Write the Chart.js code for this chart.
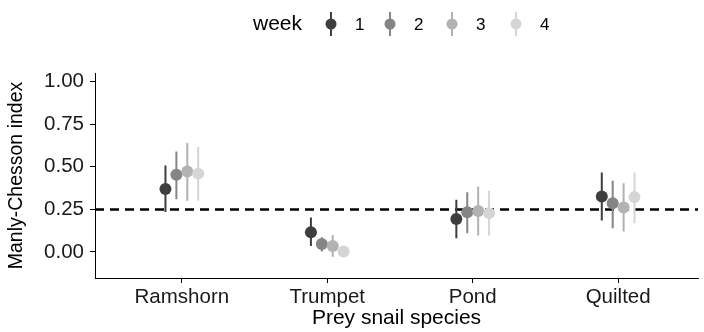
<!DOCTYPE html>
<html>
<head>
<meta charset="utf-8">
<script src="https://cdn.jsdelivr.net/npm/chart.js@4/dist/chart.umd.min.js"></script>
<style>
html,body{margin:0;padding:0;background:#fff;overflow:hidden;}
canvas{display:block;}
</style>
</head>
<body>
<canvas id="c" width="704" height="332"></canvas>
<script>
// ---- data ----
const categories = ['Ramshorn', 'Trumpet', 'Pond', 'Quilted'];
const weeks = ['1', '2', '3', '4'];

const week1Mean = [0.370, 0.116, 0.194, 0.325];
const week1Low  = [0.234, 0.035, 0.080, 0.184];
const week1High = [0.508, 0.202, 0.306, 0.467];

const week2Mean = [0.453, 0.047, 0.233, 0.286];
const week2Low  = [0.310, 0.002, 0.110, 0.139];
const week2High = [0.590, 0.086, 0.351, 0.418];

const week3Mean = [0.472, 0.035, 0.241, 0.261];
const week3Low  = [0.300, -0.028, 0.096, 0.120];
const week3High = [0.640, 0.100, 0.384, 0.404];

const week4Mean = [0.460, 0.002, 0.228, 0.322];
const week4Low  = [0.300, -0.005, 0.096, 0.169];
const week4High = [0.616, 0.010, 0.360, 0.467];

const yTicks = [0, 0.25, 0.5, 0.75, 1.0];
const referenceValue = 0.25;

// ---- styling / layout ----
const weekColors = ['#3e3e3e', '#858585', '#b2b2b2', '#d5d5d5'];
const dodgeWidth = 0.3;
const xMin = 0.403, xMax = 4.549;
const yMin = -0.153, yMax = 1.051;
const FONT = "'Liberation Sans', Arial, Helvetica, sans-serif";

const series = [
  {mean: week1Mean, low: week1Low, high: week1High},
  {mean: week2Mean, low: week2Low, high: week2High},
  {mean: week3Mean, low: week3Low, high: week3High},
  {mean: week4Mean, low: week4Low, high: week4High}
];

const datasets = [];
datasets.push({
  type: 'line',
  data: [{x: xMin, y: referenceValue}, {x: xMax, y: referenceValue}],
  borderColor: '#000',
  borderWidth: 2.5,
  borderDash: [9, 6],
  pointRadius: 0,
  order: 100
});
series.forEach((s, w) => {
  const off = (w - (series.length - 1) / 2) * (dodgeWidth / series.length);
  const whisk = [];
  categories.forEach((c, i) => {
    whisk.push({x: i + 1 + off, y: s.low[i]});
    whisk.push({x: i + 1 + off, y: s.high[i]});
    whisk.push({x: i + 1 + off, y: null});
  });
  datasets.push({
    type: 'line',
    data: whisk,
    borderColor: weekColors[w],
    borderWidth: 2,
    pointRadius: 0,
    spanGaps: false,
    order: 20 - w * 2
  });
  datasets.push({
    type: 'scatter',
    data: categories.map((c, i) => ({x: i + 1 + off, y: s.mean[i]})),
    backgroundColor: weekColors[w],
    borderWidth: 0,
    pointRadius: 6,
    pointHoverRadius: 6,
    order: 19 - w * 2
  });
});

const legendPlugin = {
  id: 'weekLegend',
  afterDraw(chart) {
    const ctx = chart.ctx;
    ctx.save();
    ctx.textBaseline = 'middle';
    ctx.fillStyle = '#000';
    ctx.font = '21px ' + FONT;
    ctx.fillText('week', 253, 24);
    const glyphX = [331, 390, 452, 516];
    const cy = 24;
    ctx.font = '17px ' + FONT;
    weeks.forEach((lab, w) => {
      const gx = glyphX[w];
      ctx.strokeStyle = weekColors[w];
      ctx.lineWidth = 2;
      ctx.beginPath();
      ctx.moveTo(gx, cy - 12);
      ctx.lineTo(gx, cy + 12);
      ctx.stroke();
      ctx.fillStyle = weekColors[w];
      ctx.beginPath();
      ctx.arc(gx, cy, 5.5, 0, Math.PI * 2);
      ctx.fill();
      ctx.fillStyle = '#000';
      ctx.fillText(lab, gx + 24, cy + 1);
    });
    ctx.restore();
  }
};

new Chart(document.getElementById('c'), {
  type: 'scatter',
  data: {datasets},
  plugins: [legendPlugin],
  options: {
    responsive: false,
    animation: false,
    events: [],
    layout: {padding: {top: 73, right: 0, bottom: 0, left: 0}},
    plugins: {legend: {display: false}, tooltip: {enabled: false}},
    scales: {
      x: {
        type: 'linear',
        min: xMin,
        max: xMax,
        afterBuildTicks: (scale) => { scale.ticks = categories.map((c, i) => ({value: i + 1})); },
        afterFit: (scale) => { scale.height = 54; },
        ticks: {
          autoSkip: false, maxRotation: 0, padding: 2,
          color: '#1a1a1a',
          font: {family: FONT, size: 20.5},
          callback: (v) => categories[Math.round(v) - 1]
        },
        grid: {display: true, drawOnChartArea: false, drawTicks: true, tickLength: 5, color: '#000', lineWidth: 1},
        border: {display: true, color: '#000', width: 1},
        title: {display: true, text: 'Prey snail species', color: '#000',
                font: {family: FONT, size: 21}, padding: {top: 0, bottom: 1}}
      },
      y: {
        type: 'linear',
        min: yMin,
        max: yMax,
        afterBuildTicks: (scale) => { scale.ticks = yTicks.map(v => ({value: v})); },
        afterFit: (scale) => { scale.width = 95; },
        ticks: {
          padding: 6,
          color: '#1a1a1a',
          font: {family: FONT, size: 20.5},
          callback: (v) => Number(v).toFixed(2)
        },
        grid: {display: true, drawOnChartArea: false, drawTicks: true, tickLength: 5, color: '#000', lineWidth: 1},
        border: {display: true, color: '#000', width: 1},
        title: {display: true, text: 'Manly-Chesson index', color: '#000',
                font: {family: FONT, size: 19.5}, padding: {top: 5, bottom: 0}}
      }
    }
  }
});
</script>
</body>
</html>
